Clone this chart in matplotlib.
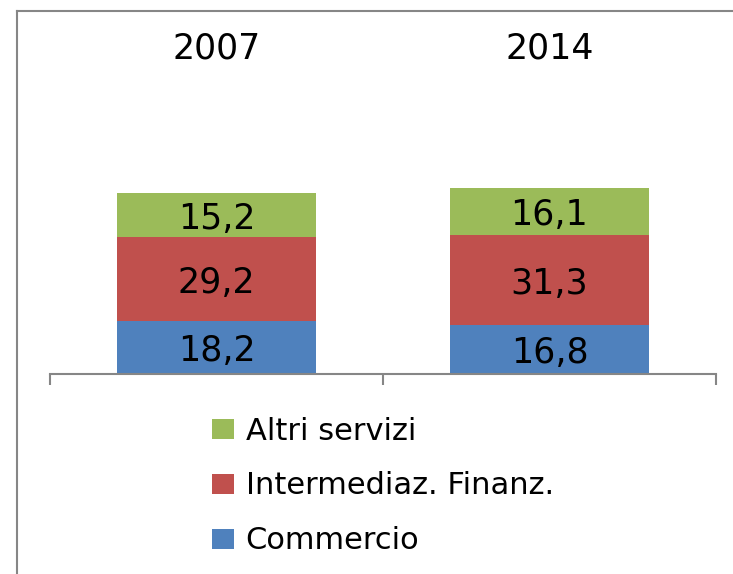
import numpy as np
from matplotlib import pyplot as plt
from matplotlib.lines import Line2D

# Data
years = ['2007', '2014']
commercio = [18.2, 16.8]
intermediaz = [29.2, 31.3]
altri = [15.2, 16.1]
series_names = ['Commercio', 'Intermediaz. Finanz.', 'Altri servizi']
colors = ['#4F81BD', '#C0504D', '#9BBB59']

fig = plt.figure(figsize=(7.33, 5.74), dpi=100)
ax = fig.add_axes([50 / 733, 1 - 374 / 574, 666 / 733, 354 / 574])

x = np.arange(len(years))
bottom = np.zeros(len(years))
handles = []
for vals, name, col in zip([commercio, intermediaz, altri], series_names, colors):
    vals = np.array(vals)
    b = ax.bar(x, vals, 0.6, bottom=bottom, color=col, label=name)
    handles.append(b)
    for xi, v, bt in zip(x, vals, bottom):
        ax.text(xi, bt + v / 2, '{:.1f}'.format(v).replace('.', ','),
                ha='center', va='center_baseline', fontsize=25)
    bottom += vals

# year labels above bars
for xi, y in zip(x, years):
    ax.text(xi, 112.8, y, ha='center', va='center', fontsize=25)

ax.set_xlim(-0.5, 1.5)
ax.set_ylim(0, 122.5)
for s in ['left', 'right', 'top']:
    ax.spines[s].set_visible(False)
ax.spines['bottom'].set_color('#868686')
ax.spines['bottom'].set_linewidth(1.5)
ax.set_yticks([])
ax.set_xticks([-0.5, 0.5, 1.5])
ax.set_xticklabels([])
ax.tick_params(axis='x', length=8, width=1.5, color='#868686')

# legend (reversed order)
leg = fig.legend(handles[::-1], series_names[::-1], loc='upper left',
                 bbox_to_anchor=(184 / 733, 1 - 389 / 574), frameon=False,
                 fontsize=22, handlelength=0.72, handleheight=0.62,
                 handletextpad=0.4, labelspacing=0.85)

# outer frame (left and top lines)
fig.add_artist(Line2D([16.5 / 733, 16.5 / 733], [0, 1 - 10.5 / 574],
                      color='#868686', lw=1.5, transform=fig.transFigure))
fig.add_artist(Line2D([16.5 / 733, 1], [1 - 10.5 / 574, 1 - 10.5 / 574],
                      color='#868686', lw=1.5, transform=fig.transFigure))

fig.savefig('out.png')
